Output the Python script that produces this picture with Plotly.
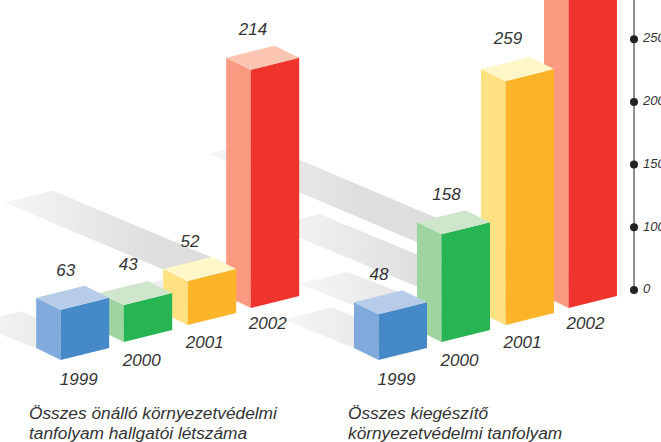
import plotly.graph_objects as go

# ---- data ----
years = ["1999", "2000", "2001", "2002"]
left_values = [63, 43, 52, 214]
right_values = [48, 158, 259, None]          # last label lies above the visible page
# drawn bar heights, in steps of the right-hand axis (the artwork is not strictly to scale)
left_heights = [0.80, 0.59, 0.70, 3.80]
right_heights = [0.73, 1.72, 3.89, 5.60]
# length of each bar's cast shadow, horizontal / vertical reach in axis units
left_shadow_dx = [64.5, 40, 50, 222]
left_shadow_dy = [24.5, 17, 21, 93.5]
right_shadow_dx = [71, 118, 210, 335]
right_shadow_dy = [28.5, 46, 87, 142]
axis_labels = ["0", "100", "150", "200", "250"]
left_caption = ["Összes önálló környezetvédelmi", "tanfolyam hallgatói létszáma"]
right_caption = ["Összes kiegészítő", "környezetvédelmi tanfolyam"]

# ---- styles ----
front_colors = ["#4589C8", "#27B553", "#FEB428", "#F1332E"]
side_colors = ["#7FAADB", "#9DD49F", "#FEE180", "#FB9A80"]
top_colors = ["#B7CCE9", "#CFE6CD", "#FFF7C7", "#FBC5B2"]
TEXT = "#333333"
FONT = "Liberation Sans"

# ---- oblique projection of the two groups ----
STEP = 62.7
SLOT_X = [0, 63, 127, 190]
SLOT_Y = [0, 18, 35, 52]
SIDE_X, SIDE_Y = -24.5, 12.0    # from the front corner to the left vertex
FACE_X, FACE_Y = 48.5, 12.0     # from the front corner to the right vertex
BASE_Y = -70.0
GROUP_X = [60.7, 378.5]
AXIS_X = 634
# hand-placed value label nudges, from each bar's top front corner
VALUE_NUDGE_X = [[5, 4.6, 2.3, 2.3], [0.5, 5, 2.5, 0]]
VALUE_NUDGE_Y = [[38.5, 39.5, 38, 39], [38.5, 38.5, 41.5, 0]]
YEAR_STEP_X, YEAR_STEP_Y = 63, 18.6


def front_corner(group, slot):
    return GROUP_X[group] + SLOT_X[slot], BASE_Y + SLOT_Y[slot]


def faces(group, slot, height):
    fx, fy = front_corner(group, slot)
    h = height * STEP
    lx, ly = fx + SIDE_X, fy + SIDE_Y
    rx, ry = fx + FACE_X, fy + FACE_Y
    bx, by = lx + FACE_X, ly + FACE_Y
    side = ([lx, fx, fx, lx], [ly, fy, fy + h, ly + h])
    front = ([fx, rx, rx, fx], [fy, ry, ry + h, fy + h])
    top = ([lx, fx, rx, bx], [ly + h, fy + h, ry + h, by + h])
    return side, front, top


def shadow(group, slot, dx, dy):
    fx, fy = front_corner(group, slot)
    lx, ly = fx + SIDE_X, fy + SIDE_Y
    bx, by = lx + FACE_X, ly + FACE_Y
    return [lx, bx, bx - dx, lx - dx], [ly, by, by + dy, ly + dy]


def poly(xy, color):
    return go.Scatter(x=xy[0], y=xy[1], mode="none", fill="toself", fillcolor=color,
                      hoverinfo="skip", showlegend=False)


fig = go.Figure()

# shadows first
all_dx = [left_shadow_dx, right_shadow_dx]
all_dy = [left_shadow_dy, right_shadow_dy]
for g in (0, 1):
    for s in range(4):
        xs, ys = shadow(g, s, all_dx[g][s], all_dy[g][s])
        far = min(xs)
        fig.add_trace(go.Scatter(
            x=xs, y=ys, mode="none", fill="toself",
            fillgradient=dict(type="horizontal",
                              colorscale=[[0, "#F6F6F6"], [1, "#DEDEDE"]],
                              start=far, stop=far + 150),
            hoverinfo="skip", showlegend=False))

# bars, back to front within each group
all_heights = [left_heights, right_heights]
for g in (0, 1):
    for s in (3, 2, 1, 0):
        side, front, top = faces(g, s, all_heights[g][s])
        fig.add_trace(poly(side, side_colors[s]))
        fig.add_trace(poly(front, front_colors[s]))
        fig.add_trace(poly(top, top_colors[s]))

# labels
all_values = [left_values, right_values]
for g in (0, 1):
    vx, vy, vt, yx, yy = [], [], [], [], []
    for s in range(4):
        fx, fy = front_corner(g, s)
        yx.append(GROUP_X[g] + 18 + YEAR_STEP_X * s)
        yy.append(BASE_Y - 20.5 + YEAR_STEP_Y * s)
        if all_values[g][s] is not None:
            vx.append(fx + VALUE_NUDGE_X[g][s])
            vy.append(fy + all_heights[g][s] * STEP + VALUE_NUDGE_Y[g][s])
            vt.append(str(all_values[g][s]))
    for x, y, t in ((vx, vy, vt), (yx, yy, years)):
        fig.add_trace(go.Scatter(x=x, y=y, text=t, mode="text", textposition="middle center",
                                 textfont=dict(family=FONT, size=17, color=TEXT, style="italic"),
                                 hoverinfo="skip", showlegend=False))

# captions
for x0, lines in ((29, left_caption), (348, right_caption)):
    fig.add_trace(go.Scatter(x=[x0] * len(lines), y=[-125, -145][:len(lines)], text=lines,
                             mode="text", textposition="middle right",
                             textfont=dict(family=FONT, size=17.3, color=TEXT, style="italic"),
                             hoverinfo="skip", showlegend=False))

# value axis
tick_y = [i * STEP for i in range(len(axis_labels))]
fig.add_trace(go.Scatter(x=[AXIS_X, AXIS_X], y=[0, 290], mode="lines",
                         line=dict(color="#444444", width=1.2),
                         hoverinfo="skip", showlegend=False))
fig.add_trace(go.Scatter(x=[AXIS_X] * len(tick_y), y=tick_y, mode="markers",
                         marker=dict(color="#222222", size=8),
                         hoverinfo="skip", showlegend=False))
fig.add_trace(go.Scatter(x=[AXIS_X + 9] * len(tick_y), y=tick_y, text=axis_labels, mode="text",
                         textposition="middle right",
                         textfont=dict(family=FONT, size=13, color=TEXT, style="italic"),
                         hoverinfo="skip", showlegend=False, cliponaxis=False))

fig.update_layout(
    width=661, height=442, margin=dict(l=0, r=0, t=0, b=0),
    paper_bgcolor="white", plot_bgcolor="white",
    xaxis=dict(range=[0, 661], visible=False),
    yaxis=dict(range=[-152, 290], visible=False),
)
fig.write_html("out.html", config={"displayModeBar": False},
               post_script="document.body.style.margin='0';document.body.style.overflow='hidden';")
